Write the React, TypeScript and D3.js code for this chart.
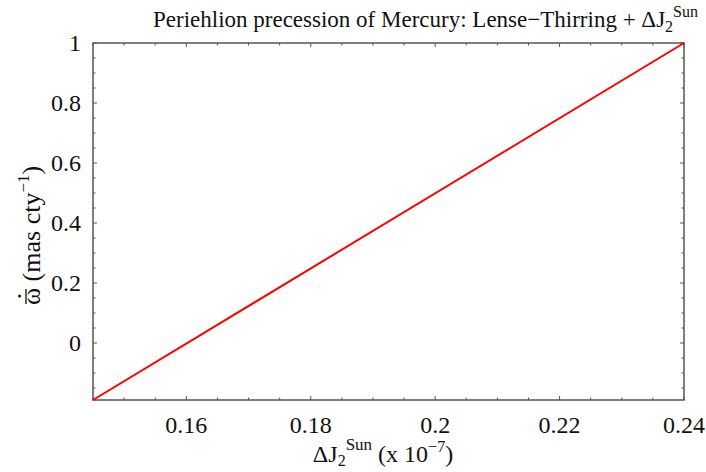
import React from "react";
import * as d3 from "d3";

const lineX = [0.145, 0.24];
const lineY = [-0.19, 1.0];
const xTicks = [0.16, 0.18, 0.2, 0.22, 0.24];
const xTickLabels = ["0.16", "0.18", "0.2", "0.22", "0.24"];
const yTicks = [0, 0.2, 0.4, 0.6, 0.8, 1];
const yTickLabels = ["0", "0.2", "0.4", "0.6", "0.8", "1"];
const xDomain = [0.145, 0.24];
const yDomain = [-0.19, 1.0];

const W = 706, H = 472;
const M = { left: 93, right: 684, top: 43, bottom: 400 };
const FONT = "Liberation Serif";

export default function App() {
  const x = d3.scaleLinear().domain(xDomain).range([M.left, M.right]);
  const y = d3.scaleLinear().domain(yDomain).range([M.bottom, M.top]);
  const pts = lineX.map((v, i) => [v, lineY[i]] as [number, number]);
  const path = d3.line<[number, number]>().x(d => x(d[0])).y(d => y(d[1]))(pts) || "";

  const xMinor = d3.range(0.145, 0.2401, 0.005).filter(v => !xTicks.some(t => Math.abs(t - v) < 1e-6));
  const yMinor = d3.range(-0.15, 1.001, 0.05).filter(v => !yTicks.some(t => Math.abs(t - v) < 1e-6));
  const axisColor = "#555";
  const maj = 4, mnr = 2.5;
  const ts = { fontFamily: FONT };

  return (
    <svg width={W} height={H} style={{ position: "absolute", left: 0, top: 0, background: "#fff", fontFamily: FONT }}>
      <rect x={0} y={0} width={W} height={H} fill="#fff" />
      {xTicks.map((t, i) => (
        <g key={"xt" + i}>
          <line x1={x(t)} x2={x(t)} y1={M.bottom} y2={M.bottom - maj} stroke={axisColor} strokeWidth={1} />
          <line x1={x(t)} x2={x(t)} y1={M.top} y2={M.top + maj} stroke={axisColor} strokeWidth={1} />
          <text style={ts} x={x(t)} y={M.bottom + 33} textAnchor="middle" fontSize={24} fill="#111">{xTickLabels[i]}</text>
        </g>
      ))}
      {xMinor.map((t, i) => (
        <g key={"xm" + i}>
          <line x1={x(t)} x2={x(t)} y1={M.bottom} y2={M.bottom - mnr} stroke={axisColor} strokeWidth={1} />
          <line x1={x(t)} x2={x(t)} y1={M.top} y2={M.top + mnr} stroke={axisColor} strokeWidth={1} />
        </g>
      ))}
      {yTicks.map((t, i) => (
        <g key={"yt" + i}>
          <line x1={M.left} x2={M.left + maj} y1={y(t)} y2={y(t)} stroke={axisColor} strokeWidth={1} />
          <line x1={M.right} x2={M.right - maj} y1={y(t)} y2={y(t)} stroke={axisColor} strokeWidth={1} />
          <text style={ts} x={81} y={y(t) + 8} textAnchor="end" fontSize={24} fill="#111">{yTickLabels[i]}</text>
        </g>
      ))}
      {yMinor.map((t, i) => (
        <g key={"ym" + i}>
          <line x1={M.left} x2={M.left + mnr} y1={y(t)} y2={y(t)} stroke={axisColor} strokeWidth={1} />
          <line x1={M.right} x2={M.right - mnr} y1={y(t)} y2={y(t)} stroke={axisColor} strokeWidth={1} />
        </g>
      ))}
      <rect x={M.left} y={M.top} width={M.right - M.left} height={M.bottom - M.top} fill="none" stroke={axisColor} strokeWidth={1.5} />
      <path d={path} fill="none" stroke="#f00" strokeWidth={2} />
      <text style={ts} x={153} y={27} fontSize={23} fill="#111">
        Periehlion precession of Mercury: Lense−Thirring + ΔJ
        <tspan fontSize={16} dy={5}>2</tspan>
        <tspan fontSize={16} dy={-15}>Sun</tspan>
      </text>
      <text style={ts} x={383} y={462} textAnchor="middle" fontSize={24} fill="#111">
        ΔJ<tspan fontSize={16} dy={4}>2</tspan>
        <tspan fontSize={17} dy={-16}>Sun</tspan>
        <tspan dy={12}> (x 10</tspan>
        <tspan fontSize={16} dy={-10}>−7</tspan>
        <tspan dy={10}>)</tspan>
      </text>
      <g transform="translate(40,305) rotate(-90)">
        <text style={ts} x={0} y={0} fontSize={26} fill="#111">
          ω (mas cty<tspan fontSize={17} dy={-11}>−1</tspan><tspan dy={11}>)</tspan>
        </text>
        <line x1={1} x2={16} y1={-14} y2={-14} stroke="#111" strokeWidth={1.3} />
        <circle cx={9} cy={-20.5} r={1.5} fill="#111" />
      </g>
    </svg>
  );
}
